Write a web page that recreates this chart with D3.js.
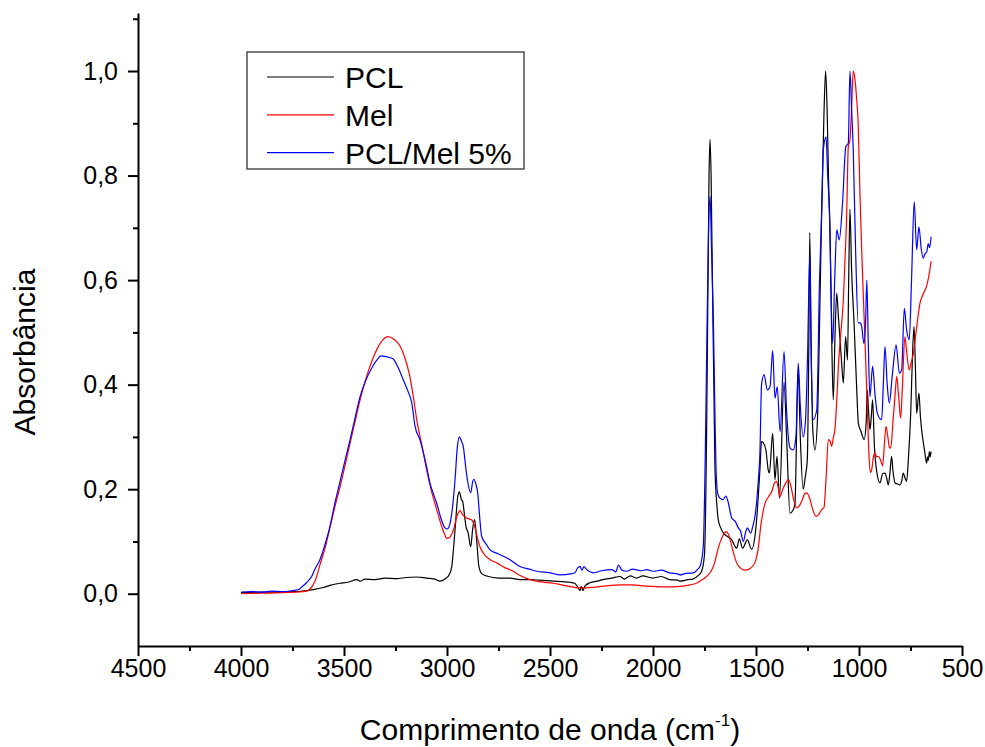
<!DOCTYPE html>
<html lang="pt">
<head>
<meta charset="UTF-8">
<title>FTIR PCL / Mel</title>
<script src="https://cdnjs.cloudflare.com/ajax/libs/d3/7.8.5/d3.min.js"></script>
<style>
    body {
        margin: 0;
        background: #fff;
        font-family: 'Liberation Sans', Arial, sans-serif;
    }
    .axis path, .axis line {
        stroke: #000;
        stroke-width: 2;
    }
    .axis text {
        font-family: 'Liberation Sans', Arial, sans-serif;
        font-size: 25px;
        fill: #000;
    }
    .spectrum {
        fill: none;
        stroke-width: 1.2;
        stroke-linejoin: round;
    }
</style>
</head>
<body>
<div id="chart"></div>
<script>
// series names / colours
const seriesNames = ["PCL", "Mel", "PCL/Mel 5%"];
const seriesColors = ["#000000", "#ff0000", "#0000ff"];

// tick values
const xMajorTicks = [4500, 4000, 3500, 3000, 2500, 2000, 1500, 1000, 500];
const xMinorTicks = [4250, 3750, 3250, 2750, 2250, 1750, 1250, 750];
const yMajorTicks = [0.0, 0.2, 0.4, 0.6, 0.8, 1.0];
const yMinorTicks = [0.1, 0.3, 0.5, 0.7, 0.9, 1.1];

// [wavenumber cm-1, absorbance]
const pclSpectrum = [
    [4000, 0.002], [3900, 0.003], [3800, 0.003], [3750, 0.004], [3700, 0.005], [3650, 0.008],
    [3600, 0.012], [3568, 0.016], [3520, 0.020], [3480, 0.022], [3438, 0.027], [3420, 0.024],
    [3400, 0.028], [3350, 0.027], [3300, 0.030], [3244, 0.029], [3200, 0.031], [3147, 0.032],
    [3100, 0.030], [3060, 0.028], [3034, 0.024], [3010, 0.028], [2990, 0.036], [2977, 0.052],
    [2961, 0.122], [2948, 0.185], [2940, 0.195], [2930, 0.180], [2924, 0.177], [2915, 0.150],
    [2908, 0.129], [2897, 0.116], [2885, 0.090], [2875, 0.125], [2866, 0.142], [2856, 0.103],
    [2845, 0.052], [2830, 0.038], [2807, 0.034], [2750, 0.030], [2694, 0.030], [2646, 0.027],
    [2600, 0.027], [2550, 0.026], [2485, 0.024], [2440, 0.023], [2403, 0.022], [2380, 0.020],
    [2364, 0.012], [2355, 0.006], [2348, 0.014], [2340, 0.006], [2330, 0.015], [2306, 0.021],
    [2270, 0.024], [2243, 0.027], [2200, 0.030], [2160, 0.033], [2140, 0.028], [2110, 0.034],
    [2080, 0.030], [2050, 0.034], [2000, 0.030], [1960, 0.033], [1920, 0.027], [1880, 0.026],
    [1869, 0.024], [1830, 0.027], [1806, 0.028], [1780, 0.035], [1764, 0.043], [1750, 0.075],
    [1740, 0.30], [1733, 0.60], [1728, 0.80], [1723, 0.869], [1718, 0.80], [1711, 0.58],
    [1704, 0.38], [1699, 0.237], [1690, 0.17], [1683, 0.141], [1670, 0.125], [1658, 0.116],
    [1640, 0.110], [1618, 0.103], [1594, 0.087], [1581, 0.105], [1565, 0.087], [1542, 0.103],
    [1521, 0.085], [1505, 0.110], [1497, 0.141], [1481, 0.237], [1473, 0.291], [1465, 0.289],
    [1452, 0.275], [1440, 0.235], [1435, 0.231], [1419, 0.307], [1408, 0.218], [1398, 0.263],
    [1386, 0.183], [1364, 0.405], [1351, 0.294], [1335, 0.154], [1320, 0.160], [1311, 0.172],
    [1295, 0.43], [1285, 0.30], [1271, 0.20], [1262, 0.22], [1251, 0.256], [1243, 0.50],
    [1239, 0.691], [1233, 0.50], [1225, 0.32], [1214, 0.275], [1200, 0.35], [1190, 0.55],
    [1181, 0.734], [1170, 0.92], [1162, 1.0], [1155, 0.93], [1147, 0.78], [1141, 0.70],
    [1133, 0.50], [1125, 0.371], [1116, 0.50], [1108, 0.575], [1100, 0.53], [1092, 0.486],
    [1084, 0.44], [1076, 0.403], [1065, 0.492], [1056, 0.447], [1050, 0.60], [1044, 0.736],
    [1036, 0.62], [1024, 0.518], [1012, 0.40], [1003, 0.326], [990, 0.31], [975, 0.295],
    [965, 0.33], [960, 0.39], [955, 0.36], [947, 0.314], [940, 0.34], [934, 0.371],
    [925, 0.28], [915, 0.237], [898, 0.212], [885, 0.23], [874, 0.231], [865, 0.22],
    [858, 0.208], [850, 0.23], [842, 0.263], [835, 0.235], [825, 0.212], [812, 0.21],
    [801, 0.208], [793, 0.215], [785, 0.231], [777, 0.222], [769, 0.215], [760, 0.26],
    [749, 0.345], [740, 0.46], [733, 0.511], [726, 0.43], [720, 0.345], [709, 0.384],
    [702, 0.34], [696, 0.314], [688, 0.29], [680, 0.269], [672, 0.250], [667, 0.262],
    [664, 0.255], [658, 0.272], [655, 0.262], [650, 0.272]
];

const melSpectrum = [
    [4000, 0.000], [3900, 0.001], [3800, 0.002], [3750, 0.003], [3700, 0.004], [3681, 0.005],
    [3665, 0.009], [3640, 0.025], [3617, 0.055], [3590, 0.090], [3568, 0.127], [3545, 0.165],
    [3519, 0.205], [3495, 0.245], [3471, 0.287], [3446, 0.330], [3422, 0.371], [3390, 0.416],
    [3360, 0.450], [3341, 0.467], [3315, 0.484], [3286, 0.492], [3258, 0.487], [3228, 0.474],
    [3205, 0.452], [3180, 0.415], [3160, 0.368], [3147, 0.333], [3120, 0.280], [3099, 0.237],
    [3075, 0.196], [3050, 0.161], [3025, 0.128], [3010, 0.112], [3001, 0.106], [2990, 0.107],
    [2980, 0.112], [2969, 0.122], [2950, 0.150], [2937, 0.159], [2925, 0.152], [2905, 0.145],
    [2880, 0.141], [2865, 0.128], [2856, 0.113], [2840, 0.090], [2824, 0.078], [2790, 0.065],
    [2759, 0.059], [2720, 0.050], [2694, 0.046], [2650, 0.036], [2605, 0.028], [2550, 0.023],
    [2485, 0.020], [2420, 0.015], [2354, 0.011], [2300, 0.012], [2250, 0.014], [2160, 0.017],
    [2100, 0.017], [2050, 0.015], [2000, 0.014], [1930, 0.013], [1869, 0.014], [1820, 0.017],
    [1790, 0.020], [1772, 0.024], [1740, 0.033], [1720, 0.042], [1709, 0.050], [1699, 0.062],
    [1685, 0.085], [1670, 0.103], [1655, 0.115], [1644, 0.119], [1632, 0.112], [1620, 0.095],
    [1605, 0.072], [1594, 0.059], [1575, 0.049], [1553, 0.045], [1530, 0.048], [1505, 0.060],
    [1490, 0.085], [1475, 0.135], [1456, 0.173], [1440, 0.185], [1424, 0.195], [1410, 0.212],
    [1400, 0.215], [1390, 0.198], [1383, 0.186], [1370, 0.200], [1355, 0.212], [1343, 0.219],
    [1330, 0.205], [1320, 0.185], [1311, 0.172], [1303, 0.164], [1290, 0.168], [1275, 0.180],
    [1262, 0.192], [1254, 0.193], [1240, 0.183], [1225, 0.162], [1209, 0.148], [1195, 0.152],
    [1181, 0.161], [1170, 0.165], [1160, 0.220], [1149, 0.295], [1140, 0.292], [1133, 0.282],
    [1124, 0.300], [1117, 0.314], [1108, 0.370], [1100, 0.435], [1088, 0.500], [1076, 0.562],
    [1068, 0.640], [1060, 0.721], [1052, 0.855], [1044, 0.868], [1036, 0.930], [1028, 1.000],
    [1020, 0.985], [1012, 0.950], [1004, 0.900], [995, 0.760], [987, 0.658], [979, 0.570],
    [971, 0.485], [960, 0.360], [951, 0.260], [945, 0.232], [938, 0.238], [930, 0.262],
    [922, 0.269], [915, 0.262], [906, 0.263], [895, 0.255], [885, 0.245], [877, 0.285],
    [869, 0.320], [860, 0.300], [852, 0.279], [846, 0.279], [835, 0.330], [825, 0.380],
    [817, 0.416], [808, 0.380], [798, 0.336], [790, 0.390], [777, 0.492], [768, 0.460],
    [756, 0.428], [748, 0.440], [736, 0.460], [720, 0.510], [704, 0.556], [690, 0.572],
    [671, 0.590], [660, 0.610], [650, 0.636]
];

const blendSpectrum = [
    [4000, 0.003], [3950, 0.004], [3900, 0.003], [3850, 0.005], [3800, 0.004], [3750, 0.006],
    [3720, 0.008], [3705, 0.013], [3680, 0.022], [3657, 0.033], [3640, 0.048], [3617, 0.065],
    [3590, 0.097], [3568, 0.129], [3545, 0.172], [3519, 0.215], [3495, 0.255], [3471, 0.294],
    [3446, 0.337], [3422, 0.377], [3390, 0.412], [3365, 0.432], [3341, 0.447], [3320, 0.455],
    [3301, 0.454], [3280, 0.452], [3261, 0.449], [3240, 0.435], [3212, 0.409], [3190, 0.388],
    [3171, 0.365], [3155, 0.320], [3131, 0.294], [3099, 0.243], [3083, 0.212], [3065, 0.190],
    [3050, 0.173], [3030, 0.145], [3010, 0.126], [2998, 0.124], [2985, 0.135], [2972, 0.170],
    [2961, 0.218], [2950, 0.280], [2940, 0.300], [2930, 0.292], [2921, 0.282], [2910, 0.245],
    [2901, 0.218], [2885, 0.193], [2875, 0.215], [2869, 0.219], [2860, 0.210], [2851, 0.193],
    [2840, 0.140], [2832, 0.110], [2810, 0.095], [2791, 0.084], [2750, 0.076], [2694, 0.065],
    [2646, 0.052], [2600, 0.047], [2565, 0.043], [2500, 0.040], [2451, 0.036], [2400, 0.038],
    [2379, 0.040], [2365, 0.050], [2354, 0.052], [2345, 0.045], [2335, 0.052], [2322, 0.046],
    [2290, 0.040], [2250, 0.044], [2200, 0.046], [2180, 0.042], [2168, 0.055], [2150, 0.045],
    [2128, 0.043], [2100, 0.047], [2060, 0.044], [2030, 0.046], [1999, 0.043], [1960, 0.045],
    [1920, 0.040], [1880, 0.038], [1869, 0.036], [1840, 0.039], [1804, 0.040], [1785, 0.046],
    [1772, 0.052], [1756, 0.090], [1745, 0.300], [1738, 0.500], [1730, 0.700], [1723, 0.760],
    [1716, 0.660], [1707, 0.524], [1700, 0.360], [1694, 0.237], [1685, 0.190], [1675, 0.183],
    [1660, 0.180], [1646, 0.187], [1635, 0.175], [1618, 0.145], [1600, 0.138], [1586, 0.126],
    [1575, 0.120], [1562, 0.100], [1550, 0.118], [1542, 0.126], [1526, 0.116], [1515, 0.130],
    [1505, 0.148], [1490, 0.210], [1481, 0.269], [1473, 0.400], [1461, 0.419], [1445, 0.390],
    [1432, 0.396], [1419, 0.465], [1408, 0.374], [1397, 0.396], [1383, 0.310], [1364, 0.463],
    [1351, 0.345], [1335, 0.279], [1319, 0.275], [1306, 0.301], [1295, 0.441], [1285, 0.360],
    [1271, 0.300], [1260, 0.330], [1250, 0.450], [1239, 0.648], [1232, 0.450], [1222, 0.333],
    [1205, 0.352], [1192, 0.594], [1181, 0.734], [1173, 0.849], [1160, 0.874], [1152, 0.800],
    [1144, 0.734], [1128, 0.479], [1118, 0.600], [1108, 0.696], [1096, 0.677], [1080, 0.747],
    [1064, 0.855], [1052, 0.862], [1044, 1.000], [1036, 0.930], [1028, 0.849], [1016, 0.650],
    [1004, 0.518], [995, 0.518], [987, 0.511], [976, 0.479], [968, 0.520], [962, 0.600],
    [955, 0.480], [947, 0.377], [934, 0.435], [922, 0.380], [911, 0.345], [890, 0.333],
    [882, 0.400], [874, 0.473], [863, 0.400], [853, 0.365], [838, 0.419], [820, 0.476],
    [804, 0.422], [793, 0.428], [780, 0.546], [769, 0.505], [756, 0.486], [745, 0.600],
    [732, 0.750], [720, 0.658], [709, 0.702], [698, 0.660], [688, 0.642], [680, 0.650],
    [671, 0.654], [664, 0.670], [657, 0.662], [650, 0.683]
];

const allSeries = [pclSpectrum, melSpectrum, blendSpectrum];

const width = 985, height = 747;
const margin = { top: 13, right: 23, bottom: 101, left: 138 };
const innerW = width - margin.left - margin.right;
const innerH = height - margin.top - margin.bottom;

const svg = d3.select("#chart")
    .append("svg")
    .attr("width", width)
    .attr("height", height);

const g = svg.append("g")
    .attr("transform", `translate(${margin.left},${margin.top})`);

// x is reversed (wavenumber decreasing to the right)
const x = d3.scaleLinear().domain([4500, 500]).range([0, innerW]);
const y = d3.scaleLinear().domain([-0.1, 1.111]).range([innerH, 0]);

const commaFmt = v => d3.format(".1f")(v).replace(".", ",");

// spectra
const line = d3.line()
    .x(d => x(d[0]))
    .y(d => y(d[1]))
    .curve(d3.curveMonotoneX);

g.selectAll("path.spectrum")
    .data(allSeries)
    .enter().append("path")
    .attr("class", "spectrum")
    .attr("stroke", (d, i) => seriesColors[i])
    .attr("d", line);

// minor ticks
g.append("g")
    .attr("class", "axis")
    .attr("transform", `translate(0,${innerH})`)
    .call(d3.axisBottom(x).tickValues(xMinorTicks).tickSize(5).tickFormat(""))
    .select(".domain").remove();

g.append("g")
    .attr("class", "axis")
    .call(d3.axisLeft(y).tickValues(yMinorTicks).tickSize(5).tickFormat(""))
    .select(".domain").remove();

// major axes
g.append("g")
    .attr("class", "axis")
    .attr("transform", `translate(0,${innerH})`)
    .call(d3.axisBottom(x).tickValues(xMajorTicks).tickSize(10).tickSizeOuter(0).tickPadding(3).tickFormat(d3.format("d")));

g.append("g")
    .attr("class", "axis")
    .call(d3.axisLeft(y).tickValues(yMajorTicks).tickSize(10).tickSizeOuter(0).tickPadding(10).tickFormat(commaFmt));

// axis titles
svg.append("text")
    .attr("transform", "translate(35,352) rotate(-90)")
    .attr("text-anchor", "middle")
    .style("font-size", "30px")
    .text("Absorbância");

const xTitle = svg.append("text")
    .attr("x", margin.left + innerW / 2)
    .attr("y", 740)
    .attr("text-anchor", "middle")
    .style("font-size", "30px");
xTitle.append("tspan").text("Comprimento de onda (cm");
xTitle.append("tspan").attr("dy", -14).style("font-size", "17px").text("-1");
xTitle.append("tspan").attr("dy", 14).text(")");

// legend
const legend = svg.append("g");
legend.append("rect")
    .attr("x", 247).attr("y", 52)
    .attr("width", 277).attr("height", 117)
    .attr("fill", "#fff")
    .attr("stroke", "#333")
    .attr("stroke-width", 1.3);

seriesNames.forEach((name, i) => {
    const ly = 77 + i * 37.8;
    legend.append("line")
        .attr("x1", 267).attr("x2", 334)
        .attr("y1", ly).attr("y2", ly)
        .attr("stroke", seriesColors[i])
        .attr("stroke-width", 1.2);
    legend.append("text")
        .attr("x", 345)
        .attr("y", ly + 11)
        .style("font-size", "30px")
        .text(name);
});
</script>
</body>
</html>
